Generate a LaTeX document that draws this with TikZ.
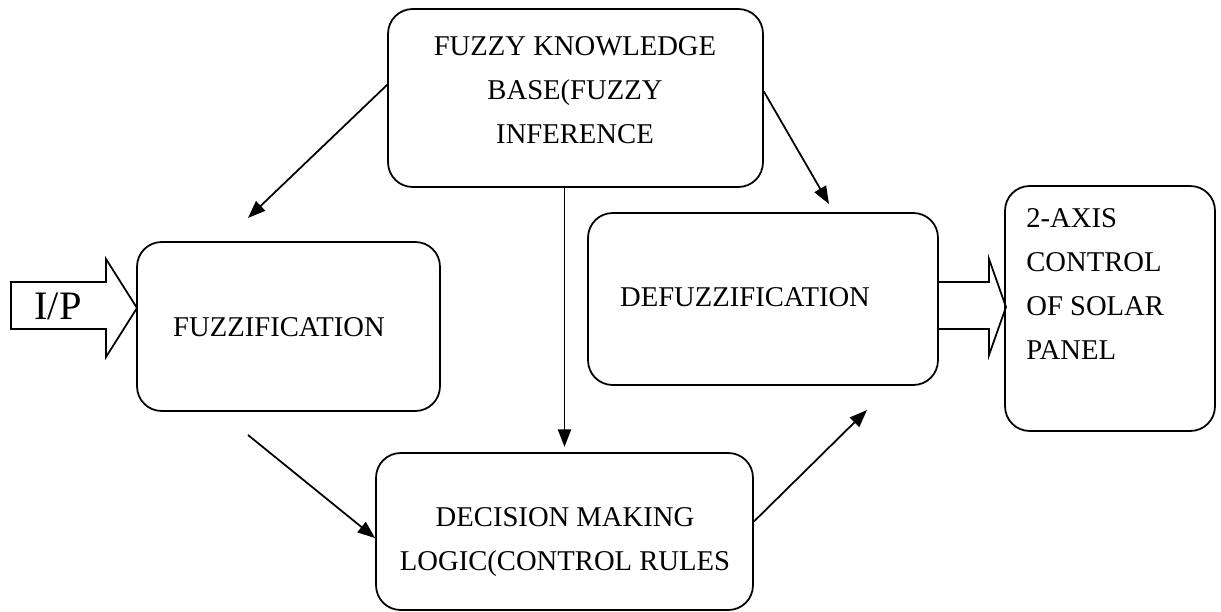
\documentclass[tikz,border=0pt]{standalone}
\usepackage{fontspec}
\setmainfont{Liberation Serif}
\usetikzlibrary{arrows.meta}
\tikzset{blok/.style={draw,line width=1pt,rounded corners=14pt},
lbl/.style={align=center,inner sep=0pt,font=\fontsize{16.3}{25}\selectfont},
arr/.style={line width=1pt,-{Triangle[length=10pt,width=7.5pt]}},
fatarrow/.style={draw,line width=1pt,line join=miter}}

\begin{document}
\begin{tikzpicture}[x=0.02cm,y=-0.02cm]
\useasboundingbox(0,0)rectangle(1221,612);
% boxes
\node[blok,minimum width=7.5cm,minimum height=3.56cm](kb)at(575.5,98){};
\node[blok,minimum width=6.06cm,minimum height=3.38cm](fuz)at(288.5,326.5){};
\node[blok,minimum width=7cm,minimum height=3.44cm](defuz)at(763,299){};
\node[blok,minimum width=7.54cm,minimum height=3.14cm](dec)at(564.5,531.5){};
\node[blok,minimum width=4.2cm,minimum height=4.9cm](axis)at(1110,308.5){};
% texts
\node[lbl](kbt)at(575,90){FUZZY KNOWLEDGE\\BASE(FUZZY\\INFERENCE};
\node[lbl](fuzt)at(279,327){FUZZIFICATION};
\node[lbl](defuzt)at(745,297){DEFUZZIFICATION};
\node[lbl](dect)at(565,542){DECISION MAKING\\LOGIC(CONTROL RULES};
\node[lbl,align=left,anchor=west](axist)at(1026,284){2-AXIS\\CONTROL\\OF SOLAR\\PANEL};
% block arrows
\draw[fatarrow](11,282)--(106,282)--(106,259)--(137,308)--(106,357)--(106,329)--(11,329)--cycle;
\node[inner sep=0pt,font=\fontsize{23}{27}\selectfont](ip)at(58,306){I/P};
\draw[fatarrow](938,282)--(989,282)--(989,259)--(1006,307)--(989,355)--(989,329)--(938,329);
% connectors
\coordinate(p1)at(248,218);\coordinate(p2)at(829,204);
\coordinate(p3)at(248,435);\coordinate(p4)at(867,410);
\draw[arr](kb.176)--(p1);
\draw[arr](kb.2)--(p2);
\draw[arr,shorten >=3pt](kb.south-|dec.north)--(dec.north);
\draw[arr](p3)--(dec.182);
\draw[arr](dec.3)--(p4);
\end{tikzpicture}
\end{document}
